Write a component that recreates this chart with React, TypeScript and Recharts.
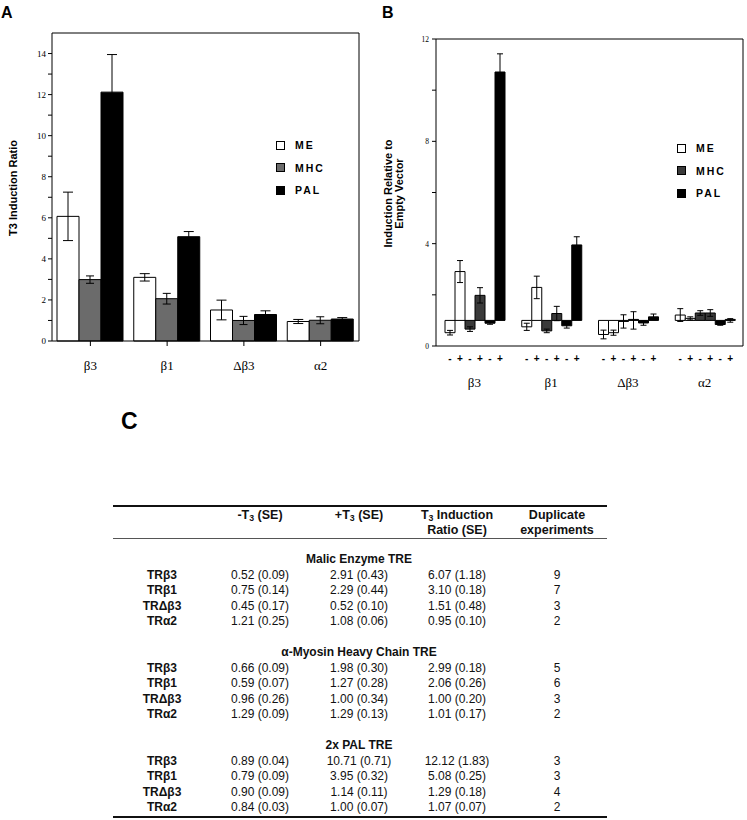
import React from "react";
import {
  BarChart,
  Bar,
  XAxis,
  YAxis,
  ErrorBar,
  Legend,
  LabelList,
  Label,
  CartesianGrid,
} from "recharts";

// ── Data (from the table) ────────────────────────────────

const GROUPS = ["β3", "β1", "Δβ3", "α2"];

// Malic enzyme TRE
const ME_MINUS = [0.52, 0.75, 0.45, 1.21];
const ME_MINUS_SE = [0.09, 0.14, 0.17, 0.25];
const ME_PLUS = [2.91, 2.29, 0.52, 1.08];
const ME_PLUS_SE = [0.43, 0.44, 0.1, 0.06];
const ME_RATIO = [6.07, 3.1, 1.51, 0.95];
const ME_RATIO_SE = [1.18, 0.18, 0.48, 0.1];
const ME_N = [9, 7, 3, 2];

// alpha-myosin heavy chain TRE
const MHC_MINUS = [0.66, 0.59, 0.96, 1.29];
const MHC_MINUS_SE = [0.09, 0.07, 0.26, 0.09];
const MHC_PLUS = [1.98, 1.27, 1.0, 1.29];
const MHC_PLUS_SE = [0.3, 0.28, 0.34, 0.13];
const MHC_RATIO = [2.99, 2.06, 1.0, 1.01];
const MHC_RATIO_SE = [0.18, 0.26, 0.2, 0.17];
const MHC_N = [5, 6, 3, 2];

// 2x PAL TRE
const PAL_MINUS = [0.89, 0.79, 0.9, 0.84];
const PAL_MINUS_SE = [0.04, 0.09, 0.09, 0.03];
const PAL_PLUS = [10.71, 3.95, 1.14, 1.0];
const PAL_PLUS_SE = [0.71, 0.32, 0.11, 0.07];
const PAL_RATIO = [12.12, 5.08, 1.29, 1.07];
const PAL_RATIO_SE = [1.83, 0.25, 0.18, 0.07];
const PAL_N = [3, 3, 4, 2];

const A_TICKS = [0, 1, 2, 3, 4, 5, 6, 7, 8, 9, 10, 11, 12, 13, 14];
const B_TICKS = [0, 2, 4, 6, 8, 10, 12];
const SIGNS = ["-", "+", "-", "+", "-", "+"];

// ── Styles ───────────────────────────────────────────────

const SANS = "'Liberation Sans', Arial, sans-serif";
const SERIF = "'Liberation Serif', 'Times New Roman', serif";
const A_COLORS = { me: "#ffffff", mhc: "#6b6b6b", pal: "#000000" };
const B_COLORS = { me: "#ffffff", mhc: "#3a3a3a", pal: "#000000" };

// ── Built tables ─────────────────────────────────────────

const dataA = GROUPS.map((g, i) => ({
  group: g,
  me: ME_RATIO[i],
  meSe: ME_RATIO_SE[i],
  mhc: MHC_RATIO[i],
  mhcSe: MHC_RATIO_SE[i],
  pal: PAL_RATIO[i],
  palSe: PAL_RATIO_SE[i],
}));

// bars in B are drawn from the empty-vector level (1) to the value
const dataB = GROUPS.map((g, i) => ({
  group: g,
  meM: [1, ME_MINUS[i]],
  meMSe: ME_MINUS_SE[i],
  meP: [1, ME_PLUS[i]],
  mePSe: ME_PLUS_SE[i],
  mhcM: [1, MHC_MINUS[i]],
  mhcMSe: MHC_MINUS_SE[i],
  mhcP: [1, MHC_PLUS[i]],
  mhcPSe: MHC_PLUS_SE[i],
  palM: [1, PAL_MINUS[i]],
  palMSe: PAL_MINUS_SE[i],
  palP: [1, PAL_PLUS[i]],
  palPSe: PAL_PLUS_SE[i],
}));

const SECTIONS = [
  {
    title: "Malic Enzyme TRE",
    minus: ME_MINUS, minusSe: ME_MINUS_SE,
    plus: ME_PLUS, plusSe: ME_PLUS_SE,
    ratio: ME_RATIO, ratioSe: ME_RATIO_SE, n: ME_N,
  },
  {
    title: "α-Myosin Heavy Chain TRE",
    minus: MHC_MINUS, minusSe: MHC_MINUS_SE,
    plus: MHC_PLUS, plusSe: MHC_PLUS_SE,
    ratio: MHC_RATIO, ratioSe: MHC_RATIO_SE, n: MHC_N,
  },
  {
    title: "2x PAL TRE",
    minus: PAL_MINUS, minusSe: PAL_MINUS_SE,
    plus: PAL_PLUS, plusSe: PAL_PLUS_SE,
    ratio: PAL_RATIO, ratioSe: PAL_RATIO_SE, n: PAL_N,
  },
];

// ── Small renderers ──────────────────────────────────────

const legendContent = (colors: Record<string, string>) => () => (
  <div style={{ display: "flex", flexDirection: "column" }}>
    {[
      ["ME", colors.me],
      ["MHC", colors.mhc],
      ["PAL", colors.pal],
    ].map(([name, fill]) => (
      <div
        key={name}
        style={{ display: "flex", alignItems: "center", height: 22.5 }}
      >
        <span
          style={{
            width: 9,
            height: 9,
            background: fill,
            border: "1px solid #000",
            boxSizing: "border-box",
            marginRight: 10,
          }}
        />
        <span
          style={{
            fontFamily: SANS,
            fontWeight: 700,
            fontSize: 10.5,
            letterSpacing: 2,
            color: "#000",
          }}
        >
          {name}
        </span>
      </div>
    ))}
  </div>
);

const tickA = (props: any) => {
  const { x, y, payload } = props;
  if (payload.value % 2 !== 0) return <g />;
  return (
    <text x={x} y={y} dy={3} textAnchor="end" fontSize={9} fontFamily={SERIF} fill="#000">
      {payload.value}
    </text>
  );
};

const tickB = (props: any) => {
  const { x, y, payload } = props;
  if (payload.value % 4 !== 0) return <g />;
  return (
    <text x={x} y={y} dy={3} textAnchor="end" fontSize={7.5} fontFamily={SERIF} fill="#000">
      {payload.value}
    </text>
  );
};

const groupTick = (props: any) => {
  const { x, y, payload } = props;
  return (
    <text x={x} y={y} dy={10} textAnchor="middle" fontSize={13} fontFamily={SERIF} fill="#000">
      {payload.value}
    </text>
  );
};

// the -/+ row under each group of six contiguous bars in B
const SIGN_Y = 362;
const signRow = (props: any) => {
  const vb = props.viewBox ?? props;
  const w = Math.abs(vb.width);
  return (
    <g>
      {SIGNS.map((s, k) => (
        <text
          key={k}
          x={vb.x + w * (k + 0.5)}
          y={SIGN_Y}
          textAnchor="middle"
          fontSize={10}
          fontWeight={700}
          fontFamily={SANS}
          fill="#000"
        >
          {s}
        </text>
      ))}
    </g>
  );
};

const rotatedLabel = (lines: string[], dxs: number[]) => (props: any) => {
  const vb = props.viewBox;
  const cy = vb.y + vb.height / 2 + 1;
  return (
    <g>
      {lines.map((t, i) => {
        const cx = vb.x + dxs[i];
        return (
          <text
            key={i}
            x={cx}
            y={cy}
            dy="0.35em"
            textAnchor="middle"
            transform={`rotate(-90 ${cx} ${cy})`}
            fontSize={11}
            fontWeight={700}
            fontFamily={SANS}
            fill="#000"
          >
            {t}
          </text>
        );
      })}
    </g>
  );
};

// top and right edges of the plot frame
const frameH = ({ offset }: any) => [offset.top];
const frameV = ({ offset }: any) => [offset.left + offset.width];

// ── Panel A ──────────────────────────────────────────────

function PanelA() {
  return (
    <BarChart
      width={370}
      height={400}
      data={dataA}
      margin={{ top: 33, right: 11, bottom: 19, left: 0 }}
      barCategoryGap={5}
      barGap={0}
    >
      <CartesianGrid
        stroke="#000"
        horizontalCoordinatesGenerator={frameH}
        verticalCoordinatesGenerator={frameV}
      />
      <XAxis
        dataKey="group"
        stroke="#000"
        tickSize={5}
        tickMargin={14}
        tick={groupTick}
        height={40}
      />
      <YAxis
        domain={[0, 15]}
        ticks={A_TICKS}
        interval={0}
        width={52}
        stroke="#000"
        tickSize={4}
        tickMargin={2}
        tick={tickA}
      >
        <Label content={rotatedLabel(["T3 Induction Ratio"], [13.5])} />
      </YAxis>
      <Legend
        layout="vertical"
        align="center"
        verticalAlign="middle"
        content={legendContent(A_COLORS)}
        wrapperStyle={{ left: 276, top: 134, width: "auto" }}
      />
      <Bar dataKey="me" fill={A_COLORS.me} stroke="#000" isAnimationActive={false}>
        <ErrorBar dataKey="meSe" width={5} stroke="#000" strokeWidth={1} />
      </Bar>
      <Bar dataKey="mhc" fill={A_COLORS.mhc} stroke="#000" isAnimationActive={false}>
        <ErrorBar dataKey="mhcSe" width={4} stroke="#000" strokeWidth={1} />
      </Bar>
      <Bar dataKey="pal" fill={A_COLORS.pal} stroke="#000" isAnimationActive={false}>
        <ErrorBar dataKey="palSe" width={5} stroke="#000" strokeWidth={1} />
      </Bar>
    </BarChart>
  );
}

// ── Panel B ──────────────────────────────────────────────

function PanelB() {
  const series = [
    ["meM", B_COLORS.me],
    ["meP", B_COLORS.me],
    ["mhcM", B_COLORS.mhc],
    ["mhcP", B_COLORS.mhc],
    ["palM", B_COLORS.pal],
    ["palP", B_COLORS.pal],
  ];
  return (
    <BarChart
      width={377}
      height={400}
      data={dataB}
      margin={{ top: 39, right: 4, bottom: 0, left: 0 }}
      barCategoryGap={9}
      barGap={0}
    >
      <CartesianGrid
        stroke="#000"
        horizontalCoordinatesGenerator={frameH}
        verticalCoordinatesGenerator={frameV}
      />
      <XAxis
        dataKey="group"
        stroke="#000"
        tickLine={false}
        tickSize={0}
        tickMargin={31}
        tick={groupTick}
        height={54}
      />
      <YAxis
        domain={[0, 12]}
        ticks={B_TICKS}
        interval={0}
        width={66}
        stroke="#000"
        tickSize={4}
        tickMargin={3}
        tick={tickB}
      >
        <Label content={rotatedLabel(["Induction Relative to", "Empty Vector"], [18, 29])} />
      </YAxis>
      <Legend
        layout="vertical"
        align="center"
        verticalAlign="middle"
        content={legendContent(B_COLORS)}
        wrapperStyle={{ left: 307, top: 137, width: "auto" }}
      />
      {series.map(([key, fill], k) => (
        <Bar
          key={key}
          dataKey={key}
          fill={fill}
          stroke="#000"
          minPointSize={1}
          isAnimationActive={false}
        >
          <ErrorBar dataKey={key + "Se"} width={3} stroke="#000" strokeWidth={1} />
          {k === 0 && <LabelList dataKey={key} content={signRow} />}
        </Bar>
      ))}
    </BarChart>
  );
}

// ── Panel C (table) ──────────────────────────────────────

const COL_X = [49, 147, 246, 344, 444];
const LINE = 15.5;

function Cells({ cells, bold }: { cells: React.ReactNode[]; bold?: boolean[] }) {
  return (
    <div style={{ position: "relative", height: LINE, lineHeight: `${LINE}px` }}>
      {cells.map((c, i) => (
        <div
          key={i}
          style={{
            position: "absolute",
            left: COL_X[i] - 60,
            width: 120,
            textAlign: "center",
            fontWeight: bold && bold[i] ? 700 : 400,
            whiteSpace: "nowrap",
          }}
        >
          {c}
        </div>
      ))}
    </div>
  );
}

const fmt = (v: number, se: number) => `${v.toFixed(2)} (${se.toFixed(2)})`;
const sub3 = <sub style={{ fontSize: "0.7em", verticalAlign: "-0.25em" }}>3</sub>;

function TableC() {
  const lines: React.ReactNode[] = [];
  SECTIONS.forEach((s, si) => {
    if (si > 0) lines.push(<div key={`sp${si}`} style={{ height: LINE }} />);
    lines.push(
      <div
        key={`h${si}`}
        style={{ height: LINE, lineHeight: `${LINE}px`, fontWeight: 700, position: "relative" }}
      >
        <span style={{ position: "absolute", left: 246, transform: "translateX(-50%)", whiteSpace: "nowrap" }}>
          {s.title}
        </span>
      </div>
    );
    GROUPS.forEach((g, i) => {
      lines.push(
        <Cells
          key={`r${si}-${i}`}
          bold={[true]}
          cells={[
            `TR${g}`,
            fmt(s.minus[i], s.minusSe[i]),
            fmt(s.plus[i], s.plusSe[i]),
            fmt(s.ratio[i], s.ratioSe[i]),
            String(s.n[i]),
          ]}
        />
      );
    });
  });

  return (
    <div
      style={{
        position: "absolute",
        left: 113,
        top: 505,
        width: 494,
        fontFamily: SANS,
        fontSize: 12,
        color: "#111",
      }}
    >
      <div style={{ borderTop: "2px solid #111" }} />
      <div style={{ paddingTop: 0.5, fontSize: 12.5, fontWeight: 700 }}>
        <div style={{ position: "relative", height: 15, lineHeight: "15px" }}>
          {[
            <span key="a">-T{sub3} (SE)</span>,
            <span key="b">+T{sub3} (SE)</span>,
            <span key="c">T{sub3} Induction</span>,
            <span key="d">Duplicate</span>,
          ].map((c, i) => (
            <div key={i} style={{ position: "absolute", left: COL_X[i + 1] - 60, width: 120, textAlign: "center", whiteSpace: "nowrap" }}>
              {c}
            </div>
          ))}
        </div>
        <div style={{ position: "relative", height: 15, lineHeight: "15px" }}>
          {[
            [3, "Ratio (SE)"],
            [4, "experiments"],
          ].map(([ci, t]) => (
            <div key={ci as number} style={{ position: "absolute", left: COL_X[ci as number] - 60, width: 120, textAlign: "center", whiteSpace: "nowrap" }}>
              {t}
            </div>
          ))}
        </div>
      </div>
      <div style={{ borderTop: "1px solid #555", marginTop: 0.5 }} />
      <div style={{ height: 13 }} />
      {lines}
      <div style={{ borderTop: "2px solid #111" }} />
    </div>
  );
}

// ── App ──────────────────────────────────────────────────

const letter = (t: string, left: number, top: number, size: number) => (
  <div
    style={{
      position: "absolute",
      left,
      top,
      fontFamily: SANS,
      fontWeight: 700,
      fontSize: size,
      lineHeight: `${size}px`,
    }}
  >
    {t}
  </div>
);

export default function App() {
  return (
    <div
      style={{
        position: "absolute",
        left: 0,
        top: 0,
        width: 747,
        height: 820,
        background: "#fff",
        overflow: "hidden",
      }}
    >
      <div style={{ position: "absolute", left: 0, top: 0 }}>
        <PanelA />
      </div>
      <div style={{ position: "absolute", left: 370, top: 0 }}>
        <PanelB />
      </div>
      {letter("A", 1, 5, 16)}
      {letter("B", 382, 5, 16)}
      {letter("C", 121, 410, 23)}
      <TableC />
    </div>
  );
}
